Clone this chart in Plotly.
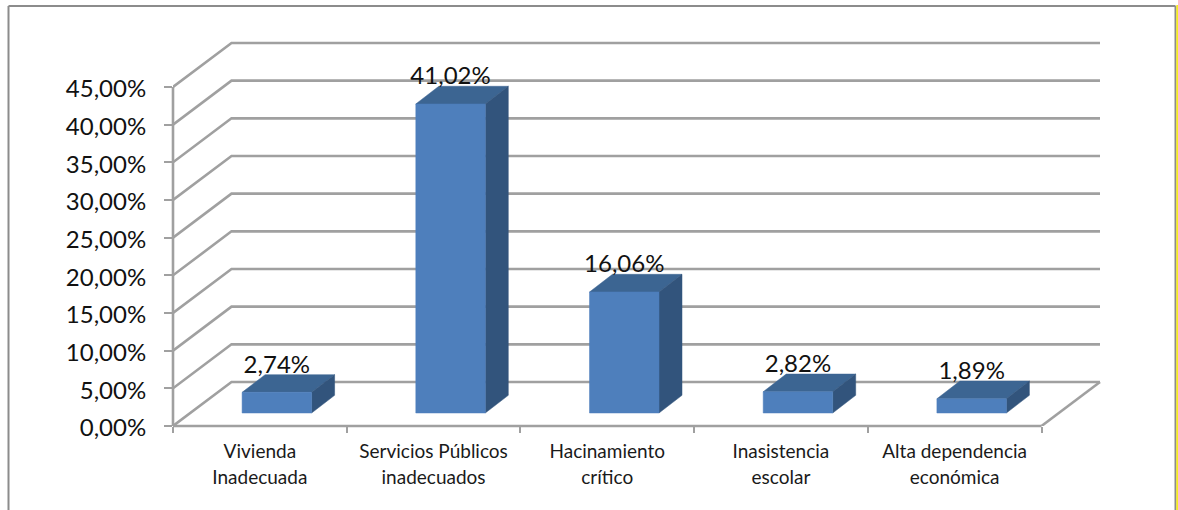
import plotly.graph_objects as go

# ---- data ----
categories = ["Vivienda<br>Inadecuada", "Servicios Públicos<br>inadecuados", "Hacinamiento<br>crítico",
              "Inasistencia<br>escolar", "Alta dependencia<br>económica"]
values = [2.74, 41.02, 16.06, 2.82, 1.89]
y_ticks = [0, 5, 10, 15, 20, 25, 30, 35, 40, 45]
y_tick_labels = ["0,00%", "5,00%", "10,00%", "15,00%", "20,00%", "25,00%", "30,00%", "35,00%", "40,00%", "45,00%"]

# ---- layout geometry (pixels) ----
W, H = 1178, 510
L, T, B = 173, 30, 426
R = 1115                             # plot area reaches beyond the floor so the walls are not clipped
px_x = 868.5 / len(categories)       # px per category
px_y = 339 / 45                      # px per percent
wall_dx, wall_dy = 58.5 / px_x, 44 / px_y
bar_w = 69.5 / px_x
bar_dx, bar_dy = 23 / px_x, 17.7 / px_y
off_dx, off_dy = 17 / px_x, 13 / px_y
n = len(categories)

GRID = "#a0a0a0"
FRONT, TOP, SIDE = "#4e7fbc", "#3c6592", "#32547c"
FONT = "Lato, Carlito, Calibri, sans-serif"

fig = go.Figure()

# back wall + side wall gridlines
gx, gy = [], []
for t in y_ticks:
    gx += [0, wall_dx, n + wall_dx, None]
    gy += [t, t + wall_dy, t + wall_dy, None]
gx += [n, n + wall_dx, None]
gy += [0, wall_dy, None]
fig.add_trace(go.Scatter(x=gx, y=gy, mode="lines", line=dict(color=GRID, width=2.6),
                         hoverinfo="skip", showlegend=False))


def poly(xs, ys, color):
    fig.add_trace(go.Scatter(x=xs, y=ys, mode="lines", fill="toself", fillcolor=color,
                             line=dict(color=color, width=0.5),
                             hoverinfo="skip", showlegend=False))


label_x, label_y, label_text = [], [], []
for i, v in enumerate(values):
    x0 = i + 0.5 - bar_w / 2 + off_dx
    x1 = x0 + bar_w
    y0 = off_dy
    y1 = y0 + v
    poly([x0, x1, x1 + bar_dx, x0 + bar_dx, x0], [y1, y1, y1 + bar_dy, y1 + bar_dy, y1], TOP)
    poly([x1, x1 + bar_dx, x1 + bar_dx, x1, x1], [y0, y0 + bar_dy, y1 + bar_dy, y1, y0], SIDE)
    poly([x0, x1, x1, x0, x0], [y0, y0, y1, y1, y0], FRONT)
    label_x.append((x0 + x1) / 2)
    label_y.append(y1 + bar_dy + 8 / px_y)
    label_text.append(f"{v:.2f}%".replace(".", ","))

fig.add_trace(go.Scatter(x=label_x, y=label_y, text=label_text, mode="text",
                         textposition="middle center",
                         textfont=dict(family=FONT, size=24, color="#111111"),
                         cliponaxis=False, hoverinfo="skip", showlegend=False))


def pxx(p):
    return (p - L) / (R - L)


def pxy(p):
    return (B - p) / (B - T)


frame = dict(type="line", xref="paper", yref="paper", line=dict(color="#8c8c8c", width=2), layer="below")
axis = dict(type="line", xref="paper", yref="paper", line=dict(color=GRID, width=2.6), layer="below")
shapes = [
    dict(frame, x0=pxx(8.5), x1=pxx(8.5), y0=pxy(6), y1=pxy(H)),
    dict(frame, x0=pxx(8.5), x1=pxx(1175.5), y0=pxy(6), y1=pxy(6)),
    dict(frame, x0=pxx(1175.5), x1=pxx(1175.5), y0=pxy(6), y1=pxy(H)),
    dict(type="rect", xref="paper", yref="paper", x0=pxx(1176.3), x1=pxx(1178), y0=pxy(5), y1=pxy(H),
         fillcolor="#f5ee1e", line=dict(width=0), layer="below"),
    dict(axis, x0=0, x1=0, y0=0, y1=pxy(B - 339)),
    dict(axis, x0=0, x1=pxx(L + 868.5), y0=0, y1=0),
]

fig.update_layout(
    width=W, height=H,
    margin=dict(l=L, r=W - R, t=T, b=H - B, pad=0),
    paper_bgcolor="white", plot_bgcolor="rgba(0,0,0,0)",
    showlegend=False,
    shapes=shapes,
    xaxis=dict(
        range=[0, (R - L) / px_x], tickmode="array",
        tickvals=[i + 0.5 for i in range(n)],
        ticktext=[f"<span style='font-size:19px'>{c}</span>".replace("<br>", "</span><br><span style='font-size:19px'>")
                  for c in categories],
        ticks="", showgrid=False, zeroline=False, showline=False,
        tickfont=dict(family=FONT, size=20, color="#1a1a1a"), tickangle=0,
        ticklabelstandoff=11,
        minor=dict(tickmode="array", tickvals=list(range(n + 1)), ticks="outside",
                   ticklen=6, tickwidth=1.5, tickcolor=GRID, showgrid=False),
        fixedrange=True,
    ),
    yaxis=dict(
        range=[0, (B - T) / px_y], tickmode="array", tickvals=y_ticks, ticktext=y_tick_labels,
        ticks="outside", ticklen=8, tickwidth=2, tickcolor=GRID,
        showgrid=False, zeroline=False, showline=False,
        tickfont=dict(family=FONT, size=24, color="#111111"),
        ticklabelstandoff=13, ticklabelshift=2,
        fixedrange=True,
    ),
)

fig.write_html("out.html", config=dict(displayModeBar=False),
               post_script="document.body.style.margin='0';document.body.style.overflow='hidden';")
